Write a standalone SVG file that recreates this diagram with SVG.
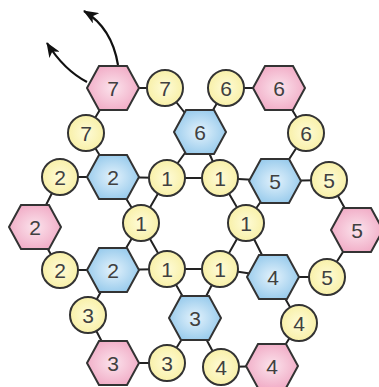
<svg xmlns="http://www.w3.org/2000/svg" width="379" height="387" viewBox="0 0 379 387">
<defs>
<radialGradient id="gp" cx="50%" cy="50%" r="60%"><stop offset="0" stop-color="#fbe3ec"/><stop offset="1" stop-color="#f0a6c2"/></radialGradient>
<radialGradient id="gb" cx="50%" cy="50%" r="60%"><stop offset="0" stop-color="#e3f2fc"/><stop offset="1" stop-color="#8fc6ea"/></radialGradient>
<radialGradient id="gy" cx="50%" cy="50%" r="60%"><stop offset="0" stop-color="#fefbd8"/><stop offset="1" stop-color="#f7ee9f"/></radialGradient>
<polygon id="hex" points="-26,0 -14,-22 14,-22 26,0 14,22 -14,22"/>
<marker id="ah" viewBox="0 0 15 12" refX="14" refY="6" markerWidth="15" markerHeight="12" markerUnits="userSpaceOnUse" orient="auto"><path d="M0,0 L15,6 L0,12 L4,6 Z" fill="#111"/></marker>
</defs>
<style>
.l{stroke:#222;stroke-width:2;fill:none}
.p{fill:url(#gp);stroke:#333;stroke-width:2}
.b{fill:url(#gb);stroke:#333;stroke-width:2}
.y{fill:url(#gy);stroke:#333;stroke-width:2}
text{font-family:"Liberation Sans",Arial,sans-serif;font-size:21px;fill:#404040;text-anchor:middle}
.a{stroke:#111;stroke-width:2.2;fill:none}
</style>
<rect width="379" height="387" fill="#ffffff"/>
<g id="connectors">
<path class="l" d="M167,178 L220,178 L246,223 L220,269 L167,269 L141,223 Z"/>
<path class="l" d="M200,132 L167,178 M200,132 L220,178"/>
<path class="l" d="M275,181 L220,178 M275,181 L246,223"/>
<path class="l" d="M273,277 L246,223 M273,277 L220,269"/>
<path class="l" d="M195,318 L220,269 M195,318 L167,269"/>
<path class="l" d="M113,270 L167,269 M113,270 L141,223"/>
<path class="l" d="M113,177 L141,223 M113,177 L167,178"/>
<path class="l" d="M86,133 L113,88 L165,88 L200,132"/>
<path class="l" d="M86,133 L113,177"/>
<path class="l" d="M200,132 L226,88 L279,88 L306,133 L275,181"/>
<path class="l" d="M275,181 L329,180 L357,230 L327,277 L273,277"/>
<path class="l" d="M273,277 L299,323 L272,366 L221,367 L195,318"/>
<path class="l" d="M195,318 L167,363 L113,363 L88,315 L113,270"/>
<path class="l" d="M113,270 L60,270 L35,227 L60,177 L113,177"/>
<path class="a" d="M118,65 Q112,28 84,11" marker-end="url(#ah)"/>
<path class="a" d="M87,82 Q64,70 47,43" marker-end="url(#ah)"/>
</g>
<g id="ring">
<g id="r1"><circle class="y" cx="167" cy="178" r="18"/><text x="167" y="185.5">1</text></g>
<g id="r2"><circle class="y" cx="220" cy="178" r="18"/><text x="220" y="185.5">1</text></g>
<g id="r3"><circle class="y" cx="246" cy="223" r="18"/><text x="246" y="230.5">1</text></g>
<g id="r4"><circle class="y" cx="220" cy="269" r="18"/><text x="220" y="276.5">1</text></g>
<g id="r5"><circle class="y" cx="167" cy="269" r="18"/><text x="167" y="276.5">1</text></g>
<g id="r6"><circle class="y" cx="141" cy="223" r="18"/><text x="141" y="230.5">1</text></g>
</g>
<g id="inner">
<g id="b6" transform="translate(200,132)"><use href="#hex" class="b"/><text y="7.5">6</text></g>
<g id="b5" transform="translate(275,181)"><use href="#hex" class="b"/><text y="7.5">5</text></g>
<g id="b4" transform="translate(273,277)"><use href="#hex" class="b"/><text y="7.5">4</text></g>
<g id="b3" transform="translate(195,318)"><use href="#hex" class="b"/><text y="7.5">3</text></g>
<g id="b2l" transform="translate(113,270)"><use href="#hex" class="b"/><text y="7.5">2</text></g>
<g id="b2u" transform="translate(113,177)"><use href="#hex" class="b"/><text y="7.5">2</text></g>
</g>
<g id="outer">
<g id="p7" transform="translate(113,88)"><use href="#hex" class="p"/><text y="7.5">7</text></g>
<g id="p6" transform="translate(279,88)"><use href="#hex" class="p"/><text y="7.5">6</text></g>
<g id="p5" transform="translate(357,230)"><use href="#hex" class="p"/><text y="7.5">5</text></g>
<g id="p4" transform="translate(272,366)"><use href="#hex" class="p"/><text y="7.5">4</text></g>
<g id="p3" transform="translate(113,363)"><use href="#hex" class="p"/><text y="7.5">3</text></g>
<g id="p2" transform="translate(35,227)"><use href="#hex" class="p"/><text y="7.5">2</text></g>
</g>
<g id="bonds">
<g id="c7a"><circle class="y" cx="165" cy="88" r="18"/><text x="165" y="95.5">7</text></g>
<g id="c7b"><circle class="y" cx="86" cy="133" r="18"/><text x="86" y="140.5">7</text></g>
<g id="c6a"><circle class="y" cx="226" cy="88" r="18"/><text x="226" y="95.5">6</text></g>
<g id="c6b"><circle class="y" cx="306" cy="133" r="18"/><text x="306" y="140.5">6</text></g>
<g id="c5a"><circle class="y" cx="329" cy="180" r="18"/><text x="329" y="187.5">5</text></g>
<g id="c5b"><circle class="y" cx="327" cy="277" r="18"/><text x="327" y="284.5">5</text></g>
<g id="c4a"><circle class="y" cx="299" cy="323" r="18"/><text x="299" y="330.5">4</text></g>
<g id="c4b"><circle class="y" cx="221" cy="367" r="18"/><text x="221" y="374.5">4</text></g>
<g id="c3a"><circle class="y" cx="167" cy="363" r="18"/><text x="167" y="370.5">3</text></g>
<g id="c3b"><circle class="y" cx="88" cy="315" r="18"/><text x="88" y="322.5">3</text></g>
<g id="c2a"><circle class="y" cx="60" cy="177" r="18"/><text x="60" y="184.5">2</text></g>
<g id="c2b"><circle class="y" cx="60" cy="270" r="18"/><text x="60" y="277.5">2</text></g>
</g>
</svg>
